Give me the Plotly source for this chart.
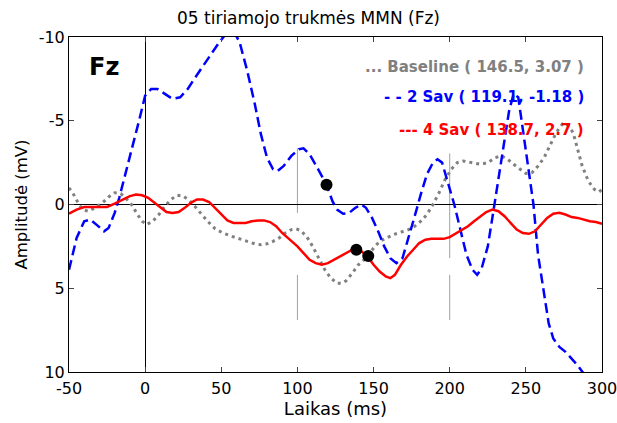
import plotly.graph_objects as go

# ---- data ----
t_sav2 = [-50, -45, -40, -36, -32, -27, -24, -20, -17, -13, -8.5, -4, 0, 4, 8, 13, 18, 23, 28, 33, 41, 48, 54, 59, 62, 67, 72, 76, 80, 84, 87, 91, 96, 101, 104, 108, 113, 119.1, 123, 126, 130, 134, 138, 142, 145, 149, 153, 157, 161, 165, 169, 173, 177, 181, 185, 189, 192, 195, 199, 203, 207, 211, 215, 218, 221, 225, 228, 232, 236, 239, 242, 245, 248, 251, 255, 258, 262, 265, 268, 272, 276, 280, 284, 288, 294, 300]
v_sav2 = [3.9, 2.0, 1.0, 0.9, 1.2, 1.6, 1.4, 0.5, -0.4, -1.8, -3.3, -5.0, -6.5, -6.9, -6.9, -6.6, -6.3, -6.4, -6.9, -7.6, -8.7, -9.6, -10.3, -10.2, -9.7, -8.0, -6.0, -4.2, -2.8, -2.1, -2.0, -2.3, -2.9, -3.3, -3.35, -3.0, -2.2, -1.18, -0.2, 0.3, 0.55, 0.5, 0.2, 0.0, 0.2, 0.8, 1.6, 2.5, 3.2, 3.5, 3.2, 2.0, 0.7, -0.6, -1.8, -2.5, -2.7, -2.5, -1.3, 0.0, 1.5, 3.0, 3.9, 4.2, 3.8, 2.5, 0.8, -1.5, -3.8, -5.6, -6.6, -6.4, -4.5, -2.5, 0.0, 3.0, 5.4, 7.1, 8.0, 8.5, 8.8, 9.2, 9.6, 10.1, 10.8, 11.5]

t_sav4 = [-50, -45, -40, -35, -30, -25, -20, -15, -10, -6, -2, 2, 6, 10, 14, 18, 22, 26, 30, 34, 38, 42, 46, 50, 54, 58, 62, 66, 70, 74, 78, 82, 86, 90, 95, 100, 104, 108, 112, 116, 120, 124, 128, 132, 136, 138.7, 142, 146, 150, 154, 158, 161, 164, 168, 172, 176, 180, 184, 188, 192, 196, 200, 204, 208, 212, 216, 220, 224, 228, 232, 236, 240, 244, 248, 252, 256, 260, 264, 268, 272, 276, 280, 284, 288, 292, 296, 300]
v_sav4 = [0.55, 0.3, 0.15, 0.15, 0.15, 0.15, -0.05, -0.3, -0.5, -0.6, -0.55, -0.4, -0.1, 0.2, 0.45, 0.5, 0.45, 0.2, -0.1, -0.3, -0.3, -0.15, 0.2, 0.6, 0.95, 1.1, 1.1, 1.1, 1.0, 0.95, 0.95, 1.05, 1.3, 1.7, 2.1, 2.5, 2.9, 3.3, 3.5, 3.6, 3.5, 3.3, 3.1, 2.9, 2.7, 2.7, 2.8, 3.1, 3.6, 4.0, 4.3, 4.4, 4.2, 3.6, 3.1, 2.7, 2.3, 2.1, 2.05, 2.05, 2.05, 1.95, 1.75, 1.5, 1.3, 1.0, 0.7, 0.45, 0.3, 0.4, 0.7, 1.1, 1.5, 1.7, 1.75, 1.6, 1.2, 0.8, 0.55, 0.5, 0.6, 0.75, 0.8, 0.9, 1.0, 1.05, 1.15]

t_base = [-50, -47, -44, -41, -37.5, -33, -28, -24, -20, -16, -13, -9, -5, -2, 1, 5, 9, 13, 17, 21, 25, 29, 33, 37, 41, 46, 51, 57, 62, 67, 72, 76, 80, 84, 88, 92, 96, 99, 102, 106, 110, 114, 118, 122, 126, 129, 132, 136, 140, 146.5, 150, 154, 158, 163, 168, 173, 177, 181, 185, 189, 193, 197, 201, 205, 209, 214, 220, 225, 230, 234, 238, 242, 246, 250, 254, 258, 262, 266, 270, 274, 277, 281, 284, 287, 291, 295, 298, 300]
v_base = [-1.0, -0.6, -0.1, 0.3, 0.4, 0.2, -0.1, -0.45, -0.7, -0.65, -0.4, 0.0, 0.6, 1.0, 1.2, 1.0, 0.6, 0.1, -0.3, -0.55, -0.5, -0.25, 0.15, 0.6, 1.0, 1.45, 1.7, 1.9, 2.05, 2.2, 2.35, 2.4, 2.35, 2.2, 2.0, 1.7, 1.5, 1.45, 1.55, 1.9, 2.5, 3.2, 3.9, 4.4, 4.7, 4.7, 4.55, 4.1, 3.6, 3.07, 2.6, 2.2, 2.0, 1.8, 1.65, 1.5, 1.3, 1.0, 0.6, 0.0, -0.7, -1.5, -2.1, -2.5, -2.6, -2.5, -2.4, -2.5, -2.8, -2.9, -2.7, -2.4, -2.1, -1.85, -1.9, -2.3, -2.8, -3.6, -4.3, -4.8, -4.8, -4.3, -3.3, -2.3, -1.4, -0.9, -0.75, -0.9]

peak_t = [119.1, 138.7, 146.5]
peak_v = [-1.18, 2.7, 3.07]

legend_lines = ["... Baseline ( 146.5, 3.07 )", "- - 2 Sav ( 119.1, -1.18 )", "--- 4 Sav ( 138.7, 2.7 )"]
legend_colors = ["#808080", "#0000ff", "#ff0000"]

x_ticks = [-50, 0, 50, 100, 150, 200, 250, 300]
x_ticktext = ["-50", "0", "50", "100", "150", "200", "250", "300"]
y_ticks = [-10, -5, 0, 5, 10]
y_ticktext = ["-10", "-5", "0", "5", "10"]
marker_segments = [(100, -3.35, 0.5), (100, 4.2, 6.9), (200, -3.05, 3.2), (200, 4.2, 6.9)]

FONT = "DejaVu Sans, Liberation Sans, Arial"

fig = go.Figure()
fig.add_trace(go.Scatter(x=t_base, y=v_base, mode="lines", line=dict(color="#808080", width=3, dash="3px,4px")))
fig.add_trace(go.Scatter(x=t_sav2, y=v_sav2, mode="lines", line=dict(color="#0000ff", width=2.5, dash="10px,5px")))
fig.add_trace(go.Scatter(x=t_sav4, y=v_sav4, mode="lines", line=dict(color="#ff0000", width=2.5)))
fig.add_trace(go.Scatter(x=peak_t, y=peak_v, mode="markers", marker=dict(color="black", size=12)))

for xs, y0, y1 in marker_segments:
    fig.add_shape(type="line", x0=xs, x1=xs, y0=y0, y1=y1, xref="x", yref="y",
                  line=dict(color="#a0a0a0", width=1), layer="below")

ys = [0.910, 0.821, 0.722]
for txt, col, yy in zip(legend_lines, legend_colors, ys):
    fig.add_annotation(text="<b>" + txt + "</b>", x=0.970, y=yy, xref="paper", yref="paper",
                       xanchor="right", yanchor="middle", showarrow=False,
                       font=dict(color=col, size=15, family=FONT))

fig.add_annotation(text="<b>Fz</b>", x=0.034, y=0.91, xref="paper", yref="paper",
                   xanchor="left", yanchor="middle", showarrow=False,
                   font=dict(color="black", size=24, family=FONT))

fig.update_layout(
    width=617, height=423,
    margin=dict(l=69, r=15, t=37, b=51),
    paper_bgcolor="white", plot_bgcolor="white",
    showlegend=False,
    font=dict(family=FONT, size=15, color="black"),
    title=dict(text="05 tiriamojo trukmės MMN (Fz)", x=0.5, xref="container", xanchor="center",
               y=0.957, yref="container", yanchor="middle",
               font=dict(size=17, color="black", family=FONT)),
)
fig.update_xaxes(range=[-50, 300], tickvals=x_ticks, ticktext=x_ticktext, ticks="inside", ticklen=5,
                 mirror="ticks", showline=True, linecolor="black", linewidth=1, showgrid=False,
                 zeroline=True, zerolinecolor="black", zerolinewidth=1, automargin=False,
                 ticklabeloverflow="allow", ticklabelstandoff=2,
                 title=dict(text="Laikas (ms)", standoff=2, font=dict(size=18, family=FONT)),
                 tickfont=dict(size=16, family=FONT))
fig.update_yaxes(range=[10, -10], tickvals=y_ticks, ticktext=y_ticktext, ticks="inside", ticklen=5,
                 mirror="ticks", showline=True, linecolor="black", linewidth=1, showgrid=False,
                 zeroline=True, zerolinecolor="black", zerolinewidth=1, automargin=False,
                 ticklabeloverflow="allow",
                 title=dict(text="Amplitudė (mV)", standoff=6, font=dict(size=16.5, family=FONT)),
                 tickfont=dict(size=16, family=FONT))

fig.write_html("out.html", config={"displayModeBar": False},
               post_script="document.body.style.margin='0px';")
